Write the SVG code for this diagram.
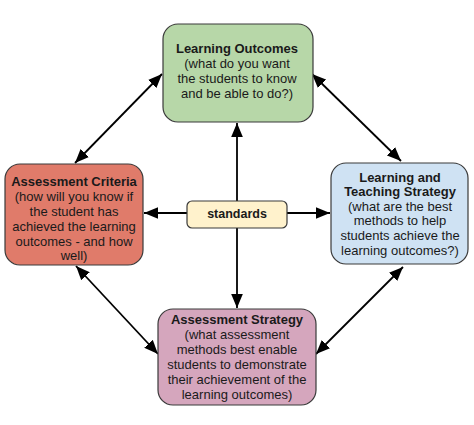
<svg xmlns="http://www.w3.org/2000/svg" width="474" height="425" viewBox="0 0 474 425">
<style>
.box{stroke:#3a3a3a;stroke-width:1.2}
text{font-family:"Liberation Sans",Arial,sans-serif;font-size:13px;fill:#1a1a1a;text-anchor:middle}
.t{font-weight:bold}
.c{stroke:#000;stroke-width:1.8;fill:none;marker-start:url(#ah);marker-end:url(#ah)}
</style>
<defs>
<marker id="ah" markerUnits="userSpaceOnUse" markerWidth="14" markerHeight="12" refX="12" refY="5" orient="auto-start-reverse" viewBox="0 0 12 10">
<path d="M0,0 L12,5 L0,10 Z" fill="#000"/>
</marker>
</defs>
<rect width="474" height="425" fill="#fff"/>
<g id="connectors">
<line class="c" x1="237" y1="123" x2="237" y2="308"/>
<line class="c" x1="144" y1="213" x2="330" y2="213"/>
<line class="c" x1="162" y1="74" x2="75" y2="163"/>
<line class="c" x1="312" y1="74" x2="401" y2="161"/>
<line class="c" x1="76" y1="266" x2="158" y2="354"/>
<line class="c" x1="403" y1="267" x2="316" y2="354"/>
</g>
<g id="learning-outcomes">
<rect class="box" x="163" y="24" width="150" height="98" rx="15" fill="#b7d7a8"/>
<text class="t" x="237" y="52.5">Learning Outcomes</text>
<text x="237" y="67.5">(what do you want</text>
<text x="237" y="82.5">the students to know</text>
<text x="237" y="97.5">and be able to do?)</text>
</g>
<g id="assessment-criteria">
<rect class="box" x="5" y="164" width="138" height="101" rx="15" fill="#e07b6a"/>
<text class="t" x="74" y="185.5">Assessment Criteria</text>
<text x="74" y="200.5">(how will you know if</text>
<text x="74" y="215.5">the student has</text>
<text x="74" y="230.5">achieved the learning</text>
<text x="74" y="245.5">outcomes - and how</text>
<text x="74" y="260">well)</text>
</g>
<g id="learning-teaching-strategy">
<rect class="box" x="331" y="163" width="137" height="101" rx="15" fill="#cfe2f3"/>
<text class="t" x="400" y="181.5">Learning and</text>
<text class="t" x="400" y="196.1">Teaching Strategy</text>
<text x="400" y="210.7">(what are the best</text>
<text x="400" y="225.3">methods to help</text>
<text x="400" y="239.9">students achieve the</text>
<text x="400" y="254.5">learning outcomes?)</text>
</g>
<g id="assessment-strategy">
<rect class="box" x="158" y="309" width="158" height="96" rx="15" fill="#d5a6bd"/>
<text class="t" x="237" y="323.5">Assessment Strategy</text>
<text x="237" y="338.5">(what assessment</text>
<text x="237" y="353.5">methods best enable</text>
<text x="237" y="368.5">students to demonstrate</text>
<text x="237" y="383.5">their achievement of the</text>
<text x="237" y="398.5">learning outcomes)</text>
</g>
<g id="standards">
<rect class="box" x="187" y="201" width="100" height="27" rx="5" fill="#fff2cc" stroke="#5a5040"/>
<text class="t" x="237" y="217.5" style="font-size:12.5px">standards</text>
</g>
</svg>
